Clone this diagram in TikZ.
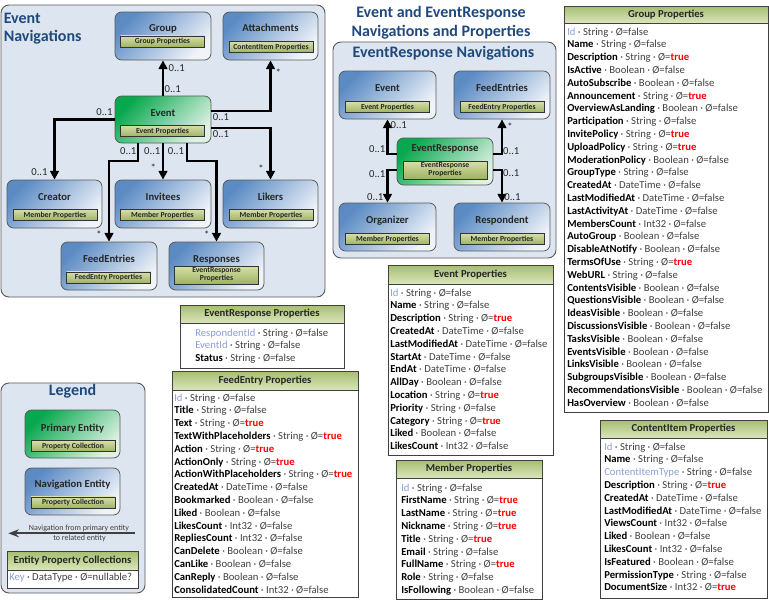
\documentclass[tikz,border=0pt]{standalone}
\usepackage{fontspec}
\setmainfont{Carlito}
\usepackage{xcolor}
\usepackage{tikz}
\usetikzlibrary{arrows.meta, positioning, fit, calc}

\definecolor{panelbg}{RGB}{221,230,240}
\definecolor{navdark}{RGB}{92,139,196}
\definecolor{navlight}{RGB}{240,244,249}
\definecolor{primdark}{RGB}{8,168,78}
\definecolor{primlight}{RGB}{222,241,228}
\definecolor{barlight}{RGB}{214,224,168}
\definecolor{bardark}{RGB}{158,178,98}
\definecolor{headtop}{RGB}{165,190,112}
\definecolor{headbot}{RGB}{218,229,188}
\definecolor{keyblue}{RGB}{140,160,212}
\definecolor{titleblue}{RGB}{31,73,125}

\newcommand{\propK}[2]{\textcolor{keyblue}{#1} · #2 · Ø=false}
\newcommand{\propF}[2]{\textcolor{black}{\textbf{#1}} · #2 · Ø=false}
\newcommand{\propT}[2]{\textcolor{black}{\textbf{#1}} · #2 · Ø=\textcolor{red}{\textbf{true}}}

\begin{document}
\begin{tikzpicture}[
  x=0.75pt, y=-0.75pt,
  panel/.style={draw=black!65, line width=0.7pt, fill=panelbg,
                rounded corners=6pt, inner sep=0pt},
  navbox/.style={draw=black!65, line width=0.6pt, rounded corners=5pt,
                 top color=navdark, bottom color=navlight, shading angle=45,
                 inner sep=0pt},
  primbox/.style={navbox, top color=primdark, bottom color=primlight,
                  shading angle=45},
  etitle/.style={font=\fontsize{8}{9.6}\selectfont\bfseries, text=black!85,
                 anchor=base, inner sep=0pt},
  propbar/.style={draw=black!80, line width=0.5pt, top color=barlight,
                  bottom color=bardark, text=black!85, align=center,
                  minimum width=63pt, minimum height=8.4pt,
                  font=\fontsize{5.8}{6}\selectfont\bfseries, inner sep=0pt},
  propbar2/.style={propbar, minimum height=13.5pt},
  tframe/.style={draw=black!75, line width=0.7pt, fill=white, inner sep=0pt},
  thead/.style={draw=black!75, line width=0.6pt, top color=headtop,
                bottom color=headbot, text=black!85, minimum height=13.5pt,
                font=\fontsize{8}{9.6}\selectfont\bfseries, inner sep=0pt},
  trows/.style={font=\fontsize{8}{9.6}\selectfont, text=black!75,
                align=left, anchor=north west, inner sep=0pt},
  mult/.style={font=\fontsize{8}{9.6}\selectfont, text=black!85, inner sep=0pt},
  heading/.style={font=\fontsize{12}{14}\selectfont\bfseries, text=titleblue,
                  inner sep=0pt},
  legnote/.style={font=\fontsize{6}{7}\selectfont, text=black!75, inner sep=0pt},
  nav/.style={line width=1.6pt, -{Triangle[length=6.5pt, width=6.5pt]}},
  legarrow/.style={draw=black!75, line width=1.4pt, -{Stealth[length=8pt, width=6pt]}},
]
\useasboundingbox (0,0) rectangle (769,600);

%% Panels
\node[panel, fit={(1,5) (325,297)}] (evNav) {};
\node[panel, fit={(333,42) (556,258)}] (erNav) {};
\node[panel, fit={(1,383) (145,593)}] (legPanel) {};

%% Headings
\node[heading, align=left, anchor=north west] (evNavT) at (3.5,12.5)
  {Event\\Navigations};
\node[heading, align=center, anchor=north, font=\fontsize{12}{14.25}\selectfont\bfseries]
  (mainT) at (441,6.5) {Event and EventResponse\\Navigations and Properties};
\node[heading, anchor=base] (erNavT) at (443.5,57.3) {EventResponse Navigations};
\node[heading, anchor=base] (legT) at (72.5,395.7) {Legend};

%% Event navigations
\node[navbox, fit={(115,12) (211,60)}] (grp) {};
\node[etitle] (grpT) at (163,31.4) {Group};
\node[propbar] (grpP) at (162.5,41.5) {Group Properties};

\node[navbox, fit={(223,12) (318,60)}] (att) {};
\node[etitle] (attT) at (270.5,31.4) {Attachments};
\node[propbar] (attP) at (271,47) {ContentItem Properties};

\node[primbox, fit={(115,96) (211,143)}] (evt) {};
\node[etitle] (evtT) at (163,116.4) {Event};
\node[propbar] (evtP) at (162.5,131) {Event Properties};

\node[navbox, fit={(7,180) (102,228)}] (cre) {};
\node[etitle] (creT) at (54.5,200.4) {Creator};
\node[propbar] (creP) at (55,215) {Member Properties};

\node[navbox, fit={(115,180) (211,228)}] (inv) {};
\node[etitle] (invT) at (163,200.4) {Invitees};
\node[propbar] (invP) at (162.5,215) {Member Properties};

\node[navbox, fit={(223,180) (318,228)}] (lik) {};
\node[etitle] (likT) at (270.5,200.4) {Likers};
\node[propbar] (likP) at (271,215) {Member Properties};

\node[navbox, fit={(61,242) (157,290)}] (fe) {};
\node[etitle] (feT) at (109,262.4) {FeedEntries};
\node[propbar] (feP) at (108.5,277.5) {FeedEntry Properties};

\node[navbox, fit={(169,242) (264,290)}] (rsp) {};
\node[etitle] (rspT) at (216.5,262.4) {Responses};
\node[propbar2] (rspP) at (216.5,275) {EventResponse\\Properties};

\draw[nav] (evt.north) -- (grp.south);
\draw[nav] ($(evt.east)+(0,-8.5)$) -| (att.south);
\draw[nav] ($(evt.east)+(0,8.5)$) -| (lik.north);
\draw[nav] (evt.west) -| (cre.north);
\draw[nav] ($(evt.south)+(-25,0)$) -- ++(0,18) -| (fe.north);
\draw[nav] (evt.south) -- (inv.north);
\draw[nav] ($(evt.south)+(24,0)$) -- ++(0,18) -| (rsp.north);

\node[mult] (mGrpA) at (176.7,68.3) {0..1};
\node[mult] (mGrpB) at (172.7,89.3) {0..1};
\node[mult] (mCreA) at (104.5,111.7) {0..1};
\node[mult] (mCreB) at (39.5,171.7) {0..1};
\node[mult] (mAttA) at (221,116.7) {0..1};
\node[mult] (mAttB) at (278.3,73) {*};
\node[mult] (mLikA) at (221,134) {0..1};
\node[mult] (mLikB) at (261,168.7) {*};
\node[mult] (mFeA) at (128.3,150.7) {0..1};
\node[mult] (mFeB) at (99,234.3) {*};
\node[mult] (mInvA) at (152.3,150.7) {0..1};
\node[mult] (mInvB) at (153.3,167.7) {*};
\node[mult] (mRspA) at (176,150.7) {0..1};
\node[mult] (mRspB) at (206.7,234.3) {*};

%% EventResponse navigations
\node[navbox, fit={(339,71) (436,119)}] (ev2) {};
\node[etitle] (ev2T) at (387.5,91.4) {Event};
\node[propbar] (ev2P) at (387.5,107) {Event Properties};

\node[navbox, fit={(454,71) (550,119)}] (fe2) {};
\node[etitle] (fe2T) at (502,91.4) {FeedEntries};
\node[propbar] (fe2P) at (502,107) {FeedEntry Properties};

\node[primbox, fit={(397,138) (493,185)}] (er) {};
\node[etitle] (erT) at (445,151.4) {EventResponse};
\node[propbar2] (erP) at (445,170) {EventResponse\\Properties};

\node[navbox, fit={(339,203) (436,251)}] (org) {};
\node[etitle] (orgT) at (387.5,223.4) {Organizer};
\node[propbar] (orgP) at (387.5,239) {Member Properties};

\node[navbox, fit={(454,203) (550,251)}] (rsd) {};
\node[etitle] (rsdT) at (502,223.4) {Respondent};
\node[propbar] (rsdP) at (502,239) {Member Properties};

\draw[nav] ($(er.west)+(0,-7.5)$) -| (ev2.south);
\draw[nav] ($(er.west)+(0,8.5)$) -| (org.north);
\draw[nav] ($(er.east)+(0,-7.5)$) -| (fe2.south);
\draw[nav] ($(er.east)+(0,8.5)$) -| (rsd.north);

\node[mult] (mEvA) at (377.2,149.3) {0..1};
\node[mult] (mEvB) at (398.8,125) {0..1};
\node[mult] (mOrgA) at (377.2,174.3) {0..1};
\node[mult] (mOrgB) at (375.3,197.3) {0..1};
\node[mult] (mFe2A) at (511.3,150.7) {0..1};
\node[mult] (mFe2B) at (510,127) {*};
\node[mult] (mRsdA) at (511.3,173) {0..1};
\node[mult] (mRsdB) at (512.5,197.3) {0..1};

%% Legend
\node[primbox, fit={(25,410) (120,458)}] (lgPrim) {};
\node[etitle] (lgPrimT) at (72.5,431.4) {Primary Entity};
\node[propbar] (lgPrimP) at (73,446) {Property Collection};

\node[navbox, fit={(25,468) (120,515)}] (lgNav) {};
\node[etitle] (lgNavT) at (72.5,487.4) {Navigation Entity};
\node[propbar] (lgNavP) at (73,502.5) {Property Collection};

\coordinate (lgFrom) at (135,533.3);
\coordinate (lgTo) at (8.3,533.3);
\draw[legarrow] (lgFrom) -- (lgTo);
\node[legnote] (lgNoteA) at (79,528) {Navigation from primary entity};
\node[legnote] (lgNoteB) at (79.5,538.5) {to related entity};

\node[tframe, fit={(7,551) (138,588)}] (lgTbl) {};
\node[thead, minimum width=98.25pt, minimum height=14.25pt] (lgTblH) at (72.5,560.5)
  {Entity Property Collections};
\node[trows] (lgTblR) at (9,573.2)
  {\textcolor{keyblue}{Key} · DataType · Ø=nullable?};

%% Property tables
\node[tframe, fit={(564,6) (768,412)}] (grpTbl) {};
\node[thead, minimum width=153pt, minimum height=12.75pt] (grpTblH) at (666,14.5)
  {Group Properties};
\node[trows] (grpTblR) at (567,27.5)
  {\propK{Id}{String}\\
   \propF{Name}{String}\\
   \propT{Description}{String}\\
   \propF{IsActive}{Boolean}\\
   \propF{AutoSubscribe}{Boolean}\\
   \propT{Announcement}{String}\\
   \propF{OverviewAsLanding}{Boolean}\\
   \propF{Participation}{String}\\
   \propT{InvitePolicy}{String}\\
   \propT{UploadPolicy}{String}\\
   \propF{ModerationPolicy}{Boolean}\\
   \propF{GroupType}{String}\\
   \propF{CreatedAt}{DateTime}\\
   \propF{LastModifiedAt}{DateTime}\\
   \propF{LastActivityAt}{DateTime}\\
   \propF{MembersCount}{Int32}\\
   \propF{AutoGroup}{Boolean}\\
   \propF{DisableAtNotify}{Boolean}\\
   \propT{TermsOfUse}{String}\\
   \propF{WebURL}{String}\\
   \propF{ContentsVisible}{Boolean}\\
   \propF{QuestionsVisible}{Boolean}\\
   \propF{IdeasVisible}{Boolean}\\
   \propF{DiscussionsVisible}{Boolean}\\
   \propF{TasksVisible}{Boolean}\\
   \propF{EventsVisible}{Boolean}\\
   \propF{LinksVisible}{Boolean}\\
   \propF{SubgroupsVisible}{Boolean}\\
   \propF{RecommendationsVisible}{Boolean}\\
   \propF{HasOverview}{Boolean}};

\node[tframe, fit={(388,265) (553,455)}] (evtTbl) {};
\node[thead, minimum width=123.75pt, minimum height=14.25pt] (evtTblH) at (470.5,274.5)
  {Event Properties};
\node[trows] (evtTblR) at (390,288.5)
  {\propK{Id}{String}\\
   \propF{Name}{String}\\
   \propT{Description}{String}\\
   \propF{CreatedAt}{DateTime}\\
   \propF{LastModifiedAt}{DateTime}\\
   \propF{StartAt}{DateTime}\\
   \propF{EndAt}{DateTime}\\
   \propF{AllDay}{Boolean}\\
   \propT{Location}{String}\\
   \propF{Priority}{String}\\
   \propT{Category}{String}\\
   \propF{Liked}{Boolean}\\
   \propF{LikesCount}{Int32}};

\node[tframe, fit={(180,305) (344,368)}] (erTbl) {};
\node[thead, minimum width=123pt] (erTblH) at (262,314)
  {EventResponse Properties};
\node[trows] (erTblR) at (195,328.5)
  {\propK{RespondentId}{String}\\
   \propK{EventId}{String}\\
   \propF{Status}{String}};

\node[tframe, fit={(172,371) (358,597)}] (feTbl) {};
\node[thead, minimum width=139.5pt, minimum height=14.25pt] (feTblH) at (265,380.5)
  {FeedEntry Properties};
\node[trows] (feTblR) at (174,393.5)
  {\propK{Id}{String}\\
   \propF{Title}{String}\\
   \propT{Text}{String}\\
   \propT{TextWithPlaceholders}{String}\\
   \propT{Action}{String}\\
   \propT{ActionOnly}{String}\\
   \propT{ActionWithPlaceholders}{String}\\
   \propF{CreatedAt}{DateTime}\\
   \propF{Bookmarked}{Boolean}\\
   \propF{Liked}{Boolean}\\
   \propF{LikesCount}{Int32}\\
   \propF{RepliesCount}{Int32}\\
   \propF{CanDelete}{Boolean}\\
   \propF{CanLike}{Boolean}\\
   \propF{CanReply}{Boolean}\\
   \propF{ConsolidatedCount}{Int32}};

\node[tframe, fit={(396,460) (542,599)}] (memTbl) {};
\node[thead, minimum width=109.5pt] (memTblH) at (469,469)
  {Member Properties};
\node[trows] (memTblR) at (401,483.5)
  {\propK{Id}{String}\\
   \propT{FirstName}{String}\\
   \propT{LastName}{String}\\
   \propT{Nickname}{String}\\
   \propT{Title}{String}\\
   \propF{Email}{String}\\
   \propT{FullName}{String}\\
   \propF{Role}{String}\\
   \propF{IsFollowing}{Boolean}};

\node[tframe, fit={(600,420) (767,598)}] (ciTbl) {};
\node[thead, minimum width=125.25pt] (ciTblH) at (683.5,429)
  {ContentItem Properties};
\node[trows] (ciTblR) at (604,442.5)
  {\propK{Id}{String}\\
   \propF{Name}{String}\\
   \propK{ContentItemType}{String}\\
   \propT{Description}{String}\\
   \propF{CreatedAt}{DateTime}\\
   \propF{LastModifiedAt}{DateTime}\\
   \propF{ViewsCount}{Int32}\\
   \propF{Liked}{Boolean}\\
   \propF{LikesCount}{Int32}\\
   \propF{IsFeatured}{Boolean}\\
   \propF{PermissionType}{String}\\
   \propT{DocumentSize}{Int32}};

\end{tikzpicture}
\end{document}
